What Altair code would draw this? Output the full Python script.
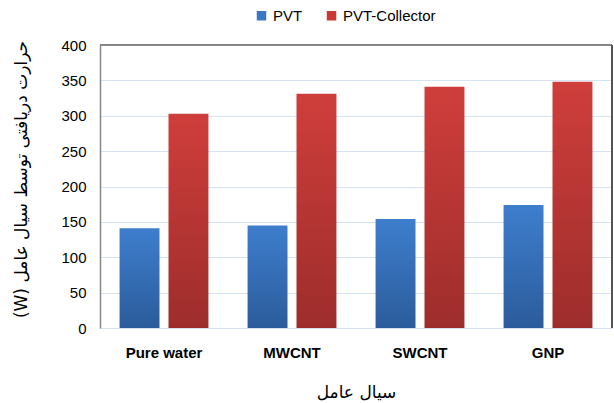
import altair as alt
import pandas as pd

categories = ["Pure water", "MWCNT", "SWCNT", "GNP"]
series = ["PVT", "PVT-Collector"]
pvt = [141, 145, 154, 174]
pvt_collector = [303, 331, 341, 348]
y_ticks = [0, 50, 100, 150, 200, 250, 300, 350, 400]

rows = []
for c, a, b in zip(categories, pvt, pvt_collector):
    rows.append({"fluid": c, "series": series[0], "value": a})
    rows.append({"fluid": c, "series": series[1], "value": b})
df = pd.DataFrame(rows)

W, H = 512, 283
FONT = "Liberation Sans"
AR_FONT = "DejaVu Sans"
# visual order: "(W)" sits at the left end of the right-to-left Persian run
Y_TITLE = "(W) حرارت دریافتی توسط سیال عامل"

x_enc = alt.X("fluid:N", sort=categories,
              scale=alt.Scale(paddingInner=0, paddingOuter=0),
              axis=alt.Axis(title="سیال عامل", labelAngle=0, labelFontWeight="bold",
                            labelFontSize=15, labelFont=FONT, labelColor="#000",
                            labelPadding=17, ticks=False, domain=False,
                            titleFont=AR_FONT, titleFontSize=17, titleFontWeight="normal",
                            titleColor="#000", titleY=64, titleBaseline="middle"))
y_enc = alt.Y("value:Q", scale=alt.Scale(domain=[0, 400], nice=False),
              axis=alt.Axis(title=Y_TITLE, values=y_ticks,
                            labelFont=FONT, labelFontSize=15, labelColor="#000",
                            labelPadding=14, ticks=False, domainColor="#868686",
                            domainWidth=1.5, gridColor="#D5E3F3", gridWidth=1,
                            titleFont=AR_FONT, titleFontSize=17, titleFontWeight="normal",
                            titleColor="#000", titleX=-79, titleY=134,
                            titleAngle=270, titleBaseline="middle"))
xoff = alt.XOffset("series:N", sort=series,
                   scale=alt.Scale(paddingInner=0.184, paddingOuter=0.4))

legend_layer = alt.Chart(df).mark_bar(opacity=0).encode(
    x=x_enc, y=y_enc, xOffset=xoff,
    color=alt.Color("series:N", sort=series,
                    scale=alt.Scale(domain=series, range=["#3A78C6", "#C93A37"]),
                    legend=alt.Legend(title=None, orient="none", legendX=154, legendY=-37,
                                      direction="horizontal", symbolType="square",
                                      symbolSize=90, symbolOpacity=1, symbolStrokeWidth=0,
                                      labelFont=FONT, labelFontSize=15, labelColor="#000",
                                      columnPadding=21, labelOffset=4)))

blue_grad = alt.Gradient(gradient="linear", x1=0, x2=0, y1=0, y2=1,
                         stops=[alt.GradientStop(color="#3E7ECD", offset=0),
                                alt.GradientStop(color="#2B5C9B", offset=1)])
red_grad = alt.Gradient(gradient="linear", x1=0, x2=0, y1=0, y2=1,
                        stops=[alt.GradientStop(color="#CF3E3B", offset=0),
                               alt.GradientStop(color="#9D2D2B", offset=1)])

blue_layer = alt.Chart(df).transform_filter(alt.datum.series == "PVT").mark_bar(
    fill=blue_grad).encode(x=x_enc, y=y_enc, xOffset=xoff)
red_layer = alt.Chart(df).transform_filter(alt.datum.series == "PVT-Collector").mark_bar(
    fill=red_grad).encode(x=x_enc, y=y_enc, xOffset=xoff)

top_rule = alt.Chart(df).mark_rule(color="#868686", strokeWidth=1.5).encode(
    x=alt.value(0), x2=alt.value(W), y=alt.value(0))
right_rule = alt.Chart(df).mark_rule(color="#555555", strokeWidth=1.5).encode(
    x=alt.value(W), y=alt.value(0), y2=alt.value(H))

chart = alt.layer(legend_layer, blue_layer, red_layer, top_rule, right_rule).properties(
    width=W, height=H,
    autosize=alt.AutoSizeParams(type="none"),
    padding={"left": 100, "top": 45, "right": 2, "bottom": 75},
).configure_view(stroke=None).configure(background="white")

chart.save("out.html", embed_options={"renderer": "svg", "actions": False})
